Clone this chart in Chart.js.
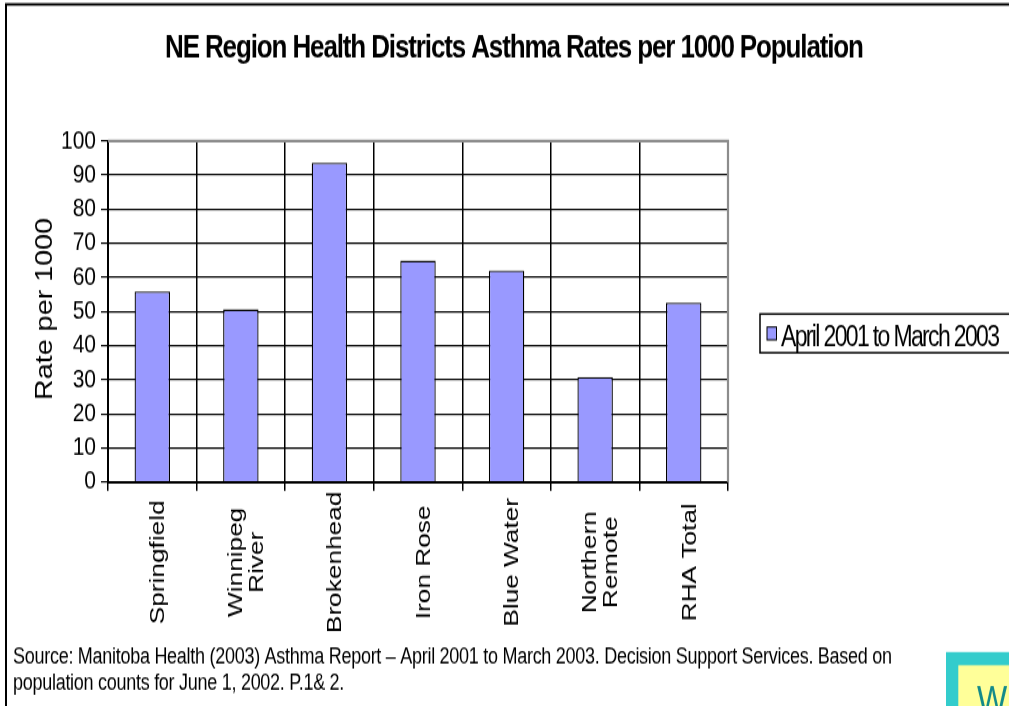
<!DOCTYPE html>
<html>
<head>
<meta charset="utf-8">
<script src="https://cdn.jsdelivr.net/npm/chart.js@4/dist/chart.umd.min.js"></script>
<style>
  html, body { margin: 0; padding: 0; background: #fff; overflow: hidden; }
</style>
</head>
<body>
<canvas id="c" width="1009" height="565" style="display:block;width:1009px;height:706px;"></canvas>
<script>
// ---- data ----
const categories = [['Springfield'], ['Winnipeg', 'River'], ['Brokenhead'], ['Iron Rose'], ['Blue Water'], ['Northern', 'Remote'], ['RHA Total']];
const rates = [55.9, 50.6, 93.6, 64.9, 62.0, 30.8, 52.6];
const seriesLabel = 'April 2001 to March 2003';
const yMin = 0, yMax = 100, yStep = 10;
const titleText = 'NE Region Health Districts Asthma Rates per 1000 Population';
const yAxisTitle = 'Rate per 1000';
const sourceLines = [
  'Source: Manitoba Health (2003) Asthma Report \u2013 April 2001 to March 2003. Decision Support Services. Based on',
  'population counts for June 1, 2002. P.1& 2.'
];
const cornerLetter = 'W';

// ---- rendering ----
const W = 1009, H = 565;           // canvas bitmap size (stretched to 706 px tall by CSS)
const FONT = '"Liberation Sans", Arial, Helvetica, sans-serif';
Chart.defaults.font.family = FONT;
Chart.defaults.color = '#000';

function fitText(ctx, text, x, y, targetW) {
  ctx.letterSpacing = '0px';
  const w0 = ctx.measureText(text).width;
  const ls = (targetW - w0) / (text.length - 1);
  ctx.letterSpacing = ls + 'px';
  ctx.fillText(text, x, y);
  ctx.letterSpacing = '0px';
  return ls;
}

const decor = {
  id: 'decor',
  afterDraw(chart) {
    const ctx = chart.ctx, a = chart.chartArea, xs = chart.scales.x;
    ctx.save();

    // outer frame (top and left)
    ctx.strokeStyle = '#000'; ctx.lineWidth = 2;
    ctx.beginPath(); ctx.moveTo(6, H); ctx.lineTo(6, 3.4); ctx.lineTo(W, 3.4); ctx.stroke();

    // plot area top/right border (grey)
    ctx.strokeStyle = '#8c8c8c'; ctx.lineWidth = 2.2;
    ctx.beginPath(); ctx.moveTo(a.left, a.top); ctx.lineTo(a.right, a.top); ctx.lineTo(a.right, a.bottom); ctx.stroke();

    ctx.fillStyle = '#000';
    // title
    ctx.font = 'bold 26px ' + FONT; ctx.textAlign = 'left'; ctx.textBaseline = 'alphabetic';
    fitText(ctx, titleText, 165, 46.4, 699);

    // category labels (rotated, centred)
    ctx.font = '21px ' + FONT; ctx.textAlign = 'center'; ctx.textBaseline = 'middle';
    const lh = 21, cy = 450, dx = 6;
    categories.forEach((lines, i) => {
      const x = xs.getPixelForValue(i) + dx;
      lines.forEach((t, j) => {
        const off = (j - (lines.length - 1) / 2) * lh;
        ctx.save(); ctx.translate(x + off, cy); ctx.rotate(-Math.PI / 2); ctx.fillText(t, 0, 0); ctx.restore();
      });
    });

    // y axis title
    ctx.font = '23px ' + FONT;
    ctx.save(); ctx.translate(46, (a.top + a.bottom) / 2 - 2); ctx.rotate(-Math.PI / 2); ctx.fillText(yAxisTitle, 0, 0); ctx.restore();

    // legend
    const ds = chart.data.datasets[0];
    ctx.strokeStyle = '#000'; ctx.lineWidth = 1.5;
    ctx.strokeRect(760, 251.3, 260, 31);
    ctx.fillStyle = ds.backgroundColor; ctx.fillRect(767, 261.7, 9.5, 10.3);
    ctx.lineWidth = 1; ctx.strokeRect(767, 261.7, 9.5, 10.3);
    ctx.fillStyle = '#000'; ctx.font = '23px ' + FONT; ctx.textAlign = 'left'; ctx.textBaseline = 'alphabetic';
    fitText(ctx, ds.label, 781, 277.3, 219);

    // source note
    ctx.font = '18px ' + FONT;
    const ls = fitText(ctx, sourceLines[0], 13, 531.1, 879);
    ctx.letterSpacing = ls + 'px';
    ctx.fillText(sourceLines[1], 13, 552.2);
    ctx.letterSpacing = '0px';

    // partially visible box in the corner
    ctx.fillStyle = '#33cccc'; ctx.fillRect(946, 521.8, W - 946, H - 521.8);
    ctx.fillStyle = '#ffff99'; ctx.fillRect(958.3, 532.4, W - 958.3, H - 532.4);
    ctx.fillStyle = '#138a8a'; ctx.font = '32px ' + FONT;
    ctx.fillText(cornerLetter, 977, 570.5);

    ctx.restore();
  }
};

new Chart(document.getElementById('c'), {
  type: 'bar',
  data: {
    labels: categories,
    datasets: [{
      label: seriesLabel,
      data: rates,
      backgroundColor: '#9999ff',
      borderColor: '#000',
      borderWidth: 1.3,
      categoryPercentage: 1,
      barPercentage: 0.4
    }]
  },
  options: {
    responsive: false,
    animation: false,
    devicePixelRatio: 1,
    layout: { padding: { left: 0, right: W - 728, top: 112.8, bottom: 0 } },
    plugins: { legend: { display: false }, title: { display: false }, tooltip: { enabled: false } },
    scales: {
      x: {
        grid: { offset: true, color: '#000', lineWidth: 1.5, tickLength: 7 },
        border: { color: '#000', width: 2 },
        ticks: { display: false },
        afterFit(s) { s.height = H - 385.7; }
      },
      y: {
        min: yMin, max: yMax,
        ticks: { stepSize: yStep, autoSkip: false, font: { size: 21, lineHeight: 1 }, color: '#000', padding: 5 },
        grid: { color: '#000', lineWidth: 1.2, tickLength: 7 },
        border: { color: '#000', width: 2 },
        afterFit(s) { s.width = 108; }
      }
    }
  },
  plugins: [decor]
});
</script>
</body>
</html>
